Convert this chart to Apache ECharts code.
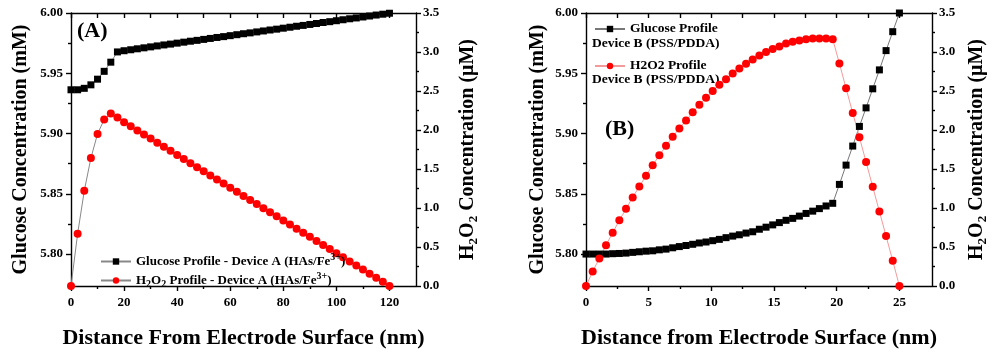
<!DOCTYPE html>
<html>
<head>
<meta charset="utf-8">
<script src="https://cdn.jsdelivr.net/npm/echarts@6/dist/echarts.min.js"></script>
<style>
html,body{margin:0;padding:0;background:#fff;}
#chart{width:1000px;height:354px;}
</style>
</head>
<body>
<div id="chart"></div>
<script>
// ---------- Data ----------
const xA = [0,2.5,5,7.5,10,12.5,15,17.5,20,22.5,25,27.5,30,32.5,35,37.5,40,42.5,45,47.5,50,52.5,55,57.5,60,62.5,65,67.5,70,72.5,75,77.5,80,82.5,85,87.5,90,92.5,95,97.5,100,102.5,105,107.5,110,112.5,115,117.5,120];
const glucoseA = [5.9363,5.9363,5.9375,5.9404,5.9451,5.9516,5.9592,5.9677,5.9687,5.9695,5.9703,5.9711,5.9719,5.9727,5.9735,5.9742,5.9750,5.9758,5.9766,5.9773,5.9781,5.9789,5.9797,5.9804,5.9812,5.9820,5.9828,5.9835,5.9843,5.9851,5.9859,5.9866,5.9874,5.9882,5.9890,5.9897,5.9905,5.9913,5.9921,5.9928,5.9936,5.9944,5.9952,5.9959,5.9967,5.9975,5.9983,5.9990,5.9998];
const h2o2A = [0,0.67,1.22,1.64,1.95,2.135,2.21,2.16,2.100,2.048,1.995,1.943,1.890,1.838,1.785,1.733,1.680,1.628,1.575,1.523,1.470,1.418,1.365,1.313,1.260,1.208,1.155,1.103,1.050,0.998,0.945,0.893,0.840,0.788,0.735,0.683,0.630,0.578,0.525,0.473,0.420,0.368,0.315,0.263,0.210,0.158,0.105,0.053,0];

const xB = [0,0.532,1.064,1.596,2.128,2.660,3.191,3.723,4.255,4.787,5.319,5.851,6.383,6.915,7.447,7.979,8.511,9.043,9.574,10.106,10.638,11.170,11.702,12.234,12.766,13.298,13.830,14.362,14.894,15.426,15.957,16.489,17.021,17.553,18.085,18.617,19.149,19.681,20.213,20.745,21.277,21.809,22.340,22.872,23.404,23.936,24.468,25.0];
const glucoseB = [5.8000,5.8000,5.8000,5.8000,5.8003,5.8005,5.8008,5.8014,5.8019,5.8024,5.8027,5.8035,5.8041,5.8052,5.8062,5.8071,5.8081,5.8092,5.8100,5.8111,5.8122,5.8136,5.8149,5.8160,5.8174,5.8185,5.8206,5.8223,5.8242,5.8261,5.8280,5.8296,5.8315,5.8337,5.8356,5.8377,5.8399,5.8421,5.8578,5.8738,5.8896,5.9059,5.9213,5.9371,5.9528,5.9688,5.9845,6.0000];
const h2o2B = [0,0.186,0.354,0.522,0.682,0.842,0.989,1.136,1.275,1.414,1.549,1.675,1.797,1.915,2.020,2.121,2.226,2.323,2.412,2.500,2.580,2.652,2.723,2.790,2.849,2.904,2.955,3.001,3.039,3.072,3.110,3.131,3.148,3.165,3.173,3.173,3.173,3.165,2.854,2.534,2.218,1.907,1.591,1.271,0.956,0.640,0.324,0];

const glucoseTicks = [5.80,5.85,5.90,5.95,6.00];
const glucoseMinor = [5.825,5.875,5.925,5.975];
const h2o2Ticks = [0,0.5,1.0,1.5,2.0,2.5,3.0,3.5];
const h2o2Minor = [0.25,0.75,1.25,1.75,2.25,2.75,3.25];
const xTicksA = [0,20,40,60,80,100,120];
const xMinorA = [10,30,50,70,90,110];
const xTicksB = [0,5,10,15,20,25];
const xMinorB = [2.5,7.5,12.5,17.5,22.5];

// ---------- Style helpers ----------
const FONT = '"Liberation Serif", "Times New Roman", serif';
const BLACK = '#000';
const lineStyle = {color: BLACK, width: 1.4};
const lblStyle = {fontFamily: FONT, fontWeight: 'bold', fontSize: 13, color: BLACK};

function xAxes(grid, max, majors, minors, title) {
  return [
    { // bottom major
      type: 'value', gridIndex: grid, position: 'bottom', min: 0, max: max,
      axisLine: {show: true, onZero: false, lineStyle},
      axisTick: {show: true, inside: false, length: 5, lineStyle, customValues: majors},
      axisLabel: {show: true, customValues: majors, margin: 10, ...lblStyle, formatter: v => String(v)},
      splitLine: {show: false},
      name: title, nameLocation: 'middle', nameGap: 41,
      nameTextStyle: {fontFamily: FONT, fontWeight: 'bold', fontSize: 22, color: BLACK}
    },
    { // bottom minor
      type: 'value', gridIndex: grid, position: 'bottom', min: 0, max: max,
      axisLine: {show: false, onZero: false},
      axisTick: {show: true, inside: false, length: 3, lineStyle, customValues: minors},
      axisLabel: {show: false}, splitLine: {show: false}
    },
    { // top mirror
      type: 'value', gridIndex: grid, position: 'top', min: 0, max: max,
      axisLine: {show: true, onZero: false, lineStyle},
      axisTick: {show: true, inside: true, length: 5, lineStyle, customValues: majors.concat(minors)},
      axisLabel: {show: false}, splitLine: {show: false}
    }
  ];
}

function yAxes(grid, leftGap, rightGap) {
  return [
    { // left glucose major
      type: 'value', gridIndex: grid, position: 'left', min: 5.7735, max: 6.0,
      axisLine: {show: true, onZero: false, lineStyle},
      axisTick: {show: true, inside: false, length: 5, lineStyle, customValues: glucoseTicks},
      axisLabel: {show: true, customValues: glucoseTicks, margin: 8, ...lblStyle, formatter: v => v.toFixed(2)},
      splitLine: {show: false},
      name: 'Glucose Concentration (mM)', nameLocation: 'middle', nameGap: leftGap, nameRotate: 90,
      nameTextStyle: {fontFamily: FONT, fontWeight: 'bold', fontSize: 20, color: BLACK}
    },
    { // left minor
      type: 'value', gridIndex: grid, position: 'left', min: 5.7735, max: 6.0,
      axisLine: {show: false, onZero: false},
      axisTick: {show: true, inside: false, length: 3, lineStyle, customValues: glucoseMinor},
      axisLabel: {show: false}, splitLine: {show: false}
    },
    { // right H2O2 major
      type: 'value', gridIndex: grid, position: 'right', min: 0, max: 3.5,
      axisLine: {show: true, onZero: false, lineStyle},
      axisTick: {show: true, inside: false, length: 5, lineStyle, customValues: h2o2Ticks},
      axisLabel: {show: true, customValues: h2o2Ticks, margin: 7, ...lblStyle, formatter: v => v.toFixed(1)},
      splitLine: {show: false},
      name: 'H{sub|2}O{sub|2} Concentration (μM)', nameLocation: 'middle', nameGap: rightGap, nameRotate: 90,
      nameTextStyle: {fontFamily: FONT, fontWeight: 'bold', fontSize: 20, color: BLACK,
        rich: {sub: {fontFamily: FONT, fontWeight: 'bold', fontSize: 13, color: BLACK, verticalAlign: 'top', padding: [12, 0, 0, 0]}}}
    },
    { // right minor
      type: 'value', gridIndex: grid, position: 'right', min: 0, max: 3.5,
      axisLine: {show: false, onZero: false},
      axisTick: {show: true, inside: false, length: 3, lineStyle, customValues: h2o2Minor},
      axisLabel: {show: false}, splitLine: {show: false}
    }
  ];
}

const pairs = (xs, ys) => xs.map((x, i) => [x, ys[i]]);

const richLegend = {
  sup: {fontFamily: FONT, fontWeight: 'bold', fontSize: 10, color: BLACK, verticalAlign: 'bottom', padding: [0, 0, 9, 0]},
  sub: {fontFamily: FONT, fontWeight: 'bold', fontSize: 10, color: BLACK, verticalAlign: 'top', padding: [8, 0, 0, 0]}
};

const option = {
  animation: false,
  backgroundColor: '#fff',
  grid: [
    {left: 71, top: 13, width: 345, height: 277},
    {left: 586, top: 13, width: 346, height: 277}
  ],
  xAxis: [].concat(
    xAxes(0, 130, xTicksA, xMinorA, 'Distance From Electrode Surface (nm)'),
    xAxes(1, 27.6, xTicksB, xMinorB, 'Distance from Electrode Surface (nm)')
  ),
  yAxis: [].concat(yAxes(0, 40, 39), yAxes(1, 38, 32)),
  legend: [
    {
      data: ['Glucose Profile - Device A (HAs/Fe3+)', 'H2O2 Profile - Device A (HAs/Fe3+)'],
      orient: 'vertical', left: 95, top: 247, itemGap: 3, itemWidth: 30, itemHeight: 8,
      selectedMode: false,
      textStyle: {fontFamily: FONT, fontWeight: 'bold', fontSize: 13, color: BLACK, rich: richLegend},
      formatter: function (name) {
        if (name.indexOf('Glucose') === 0) return 'Glucose Profile - Device A (HAs/Fe{sup|3+})';
        return 'H{sub|2}O{sub|2} Profile - Device A (HAs/Fe{sup|3+})';
      }
    },
    {
      data: ['Glucose Profile'], orient: 'vertical', left: 589, top: 17,
      itemWidth: 30, itemHeight: 8, selectedMode: false,
      textStyle: {fontFamily: FONT, fontWeight: 'bold', fontSize: 13.5, color: BLACK}
    },
    {
      data: ['H2O2 Profile'], orient: 'vertical', left: 589, top: 54,
      itemWidth: 30, itemHeight: 8, selectedMode: false,
      textStyle: {fontFamily: FONT, fontWeight: 'bold', fontSize: 13.5, color: BLACK}
    }
  ],
  graphic: [
    {type: 'text', left: 77, top: 20, style: {text: '(A)', fontFamily: FONT, fontWeight: 'bold', fontSize: 22, fill: BLACK}},
    {type: 'text', left: 605, top: 118, style: {text: '(B)', fontFamily: FONT, fontWeight: 'bold', fontSize: 22, fill: BLACK}},
    {type: 'text', left: 592, top: 37, style: {text: 'Device B (PSS/PDDA)', fontFamily: FONT, fontWeight: 'bold', fontSize: 13.5, fill: BLACK}},
    {type: 'text', left: 592, top: 73, style: {text: 'Device B (PSS/PDDA)', fontFamily: FONT, fontWeight: 'bold', fontSize: 13.5, fill: BLACK}}
  ],
  series: [
    {
      name: 'Glucose Profile - Device A (HAs/Fe3+)', type: 'line', xAxisIndex: 0, yAxisIndex: 0,
      data: pairs(xA, glucoseA), symbol: 'rect', symbolSize: 7,
      itemStyle: {color: BLACK}, lineStyle: {color: '#888', width: 1}, z: 3
    },
    {
      name: 'H2O2 Profile - Device A (HAs/Fe3+)', type: 'line', xAxisIndex: 0, yAxisIndex: 2,
      data: pairs(xA, h2o2A), symbol: 'circle', symbolSize: 8,
      itemStyle: {color: '#ff0000'}, lineStyle: {color: '#888', width: 1}, z: 3
    },
    {
      name: 'Glucose Profile', type: 'line', xAxisIndex: 3, yAxisIndex: 4,
      data: pairs(xB, glucoseB), symbol: 'rect', symbolSize: 7,
      itemStyle: {color: BLACK}, lineStyle: {color: '#777', width: 1}, z: 3
    },
    {
      name: 'H2O2 Profile', type: 'line', xAxisIndex: 3, yAxisIndex: 6,
      data: pairs(xB, h2o2B), symbol: 'circle', symbolSize: 8,
      itemStyle: {color: '#ff0000'}, lineStyle: {color: '#f49a9a', width: 1}, z: 3
    }
  ]
};

const chart = echarts.init(document.getElementById('chart'), null, {renderer: 'canvas'});
chart.setOption(option);
</script>
</body>
</html>
